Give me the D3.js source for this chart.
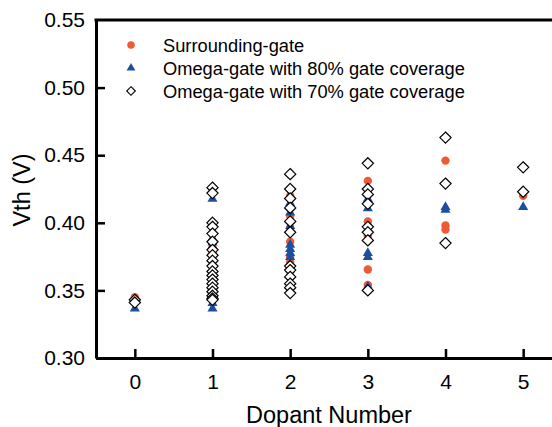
<!DOCTYPE html>
<html>
<head>
<meta charset="utf-8">
<script src="https://cdn.jsdelivr.net/npm/d3@7"></script>
<style>
  body { margin: 0; background: #fff; }
  svg { display: block; font-family: "Liberation Sans", Arial, sans-serif; }
</style>
</head>
<body>
<svg width="552" height="427"></svg>
<script>
// Vth vs dopant number, one list of points per device type
var dopants = [0, 1, 2, 3, 4, 5];
var yTicks = [0.30, 0.35, 0.40, 0.45, 0.50, 0.55];
var seriesNames = ["Surrounding-gate", "Omega-gate with 80% gate coverage", "Omega-gate with 70% gate coverage"];

var surrounding = [
  [0, 0.345],
  [1, 0.385], [1, 0.382], [1, 0.378], [1, 0.372], [1, 0.368], [1, 0.362], [1, 0.357], [1, 0.352], [1, 0.348], [1, 0.345], [1, 0.343],
  [2, 0.420], [2, 0.412], [2, 0.405], [2, 0.396], [2, 0.386], [2, 0.375], [2, 0.371], [2, 0.361], [2, 0.354],
  [3, 0.431], [3, 0.401], [3, 0.390], [3, 0.3655], [3, 0.354], [3, 0.352],
  [4, 0.446], [4, 0.398], [4, 0.395],
  [5, 0.420]
];
var omega80 = [
  [0, 0.337],
  [1, 0.418], [1, 0.389], [1, 0.386], [1, 0.383], [1, 0.378], [1, 0.374], [1, 0.369], [1, 0.363], [1, 0.358], [1, 0.353], [1, 0.349], [1, 0.345], [1, 0.341], [1, 0.337],
  [2, 0.415], [2, 0.408], [2, 0.398], [2, 0.384], [2, 0.381], [2, 0.378], [2, 0.375], [2, 0.366], [2, 0.357],
  [3, 0.418], [3, 0.411], [3, 0.378], [3, 0.375], [3, 0.353],
  [4, 0.412], [4, 0.410],
  [5, 0.412]
];
var omega70 = [
  [0, 0.343], [0, 0.341],
  [1, 0.426], [1, 0.422], [1, 0.400], [1, 0.397], [1, 0.392], [1, 0.386], [1, 0.380], [1, 0.376], [1, 0.372], [1, 0.368], [1, 0.364], [1, 0.361], [1, 0.358], [1, 0.355], [1, 0.352], [1, 0.349], [1, 0.346], [1, 0.344], [1, 0.343],
  [2, 0.436], [2, 0.425], [2, 0.418], [2, 0.411], [2, 0.401], [2, 0.393], [2, 0.368], [2, 0.365], [2, 0.360], [2, 0.355], [2, 0.352], [2, 0.348],
  [3, 0.444], [3, 0.425], [3, 0.421], [3, 0.414], [3, 0.397], [3, 0.393], [3, 0.387], [3, 0.350],
  [4, 0.463], [4, 0.429], [4, 0.385],
  [5, 0.441], [5, 0.423]
];

var red = "#ee5a36", blue = "#1e4f9f";

var svg = d3.select("svg"),
    margin = {left: 96, top: 20, bottom: 358, right: 562};

// plot box runs a little past the right edge of the picture
var x = d3.scaleLinear().domain([-0.5, 5.5]).range([margin.left, margin.right]);
var y = d3.scaleLinear().domain([0.30, 0.55]).range([margin.bottom, margin.top]);

// axes (ticks point inward)
var gx = svg.append("g")
    .attr("transform", "translate(0," + margin.bottom + ")")
    .call(d3.axisBottom(x).tickValues(dopants).tickSizeInner(-9).tickSizeOuter(0).tickPadding(16).tickFormat(d3.format("d")));
var gy = svg.append("g")
    .attr("transform", "translate(" + margin.left + ",0)")
    .call(d3.axisLeft(y).tickValues(yTicks).tickSizeInner(-9).tickSizeOuter(0).tickPadding(11).tickFormat(d3.format(".2f")));

[gx, gy].forEach(function(g) {
  g.select(".domain").attr("stroke", "#000").attr("stroke-width", 3);
  g.selectAll(".tick line").attr("stroke", "#000").attr("stroke-width", 2.5);
  g.selectAll(".tick text").attr("fill", "#000").style("font-size", "21px");
});
gy.select(".tick:last-of-type line").remove();

// top frame line
svg.append("line")
    .attr("x1", margin.left - 1.5).attr("x2", margin.right)
    .attr("y1", margin.top).attr("y2", margin.top)
    .attr("stroke", "#000").attr("stroke-width", 3);

// axis titles
svg.append("text")
    .attr("x", 329).attr("y", 423)
    .attr("text-anchor", "middle")
    .style("font-size", "23.5px")
    .text("Dopant Number");
svg.append("text")
    .attr("transform", "translate(30,190) rotate(-90)")
    .attr("text-anchor", "middle")
    .style("font-size", "23.5px")
    .text("Vth (V)");

var tri = d3.symbol().type(d3.symbolTriangle).size(44);
var dia = function(s) { return "M0," + (-s) + "L" + s + ",0L0," + s + "L" + (-s) + ",0Z"; };

var plot = svg.append("g");

plot.selectAll(".sg").data(surrounding).enter().append("circle")
    .attr("cx", function(d) { return x(d[0]); })
    .attr("cy", function(d) { return y(d[1]); })
    .attr("r", 4.2)
    .attr("fill", red);

plot.selectAll(".o80").data(omega80).enter().append("path")
    .attr("d", tri)
    .attr("transform", function(d) { return "translate(" + x(d[0]) + "," + (y(d[1]) + 0.5) + ")"; })
    .attr("fill", blue);

plot.selectAll(".o70").data(omega70).enter().append("path")
    .attr("d", dia(5.6))
    .attr("transform", function(d) { return "translate(" + x(d[0]) + "," + y(d[1]) + ")"; })
    .attr("fill", "#fff")
    .attr("stroke", "#000")
    .attr("stroke-width", 1.2);

// legend
var legend = svg.append("g").selectAll("g")
    .data(seriesNames)
    .enter().append("g")
    .attr("transform", function(d, i) { return "translate(131," + (45 + i * 23) + ")"; });

legend.append("path")
    .attr("d", function(d, i) {
      if (i == 0) return d3.symbol().type(d3.symbolCircle).size(44)();
      if (i == 1) return d3.symbol().type(d3.symbolTriangle).size(34)();
      return dia(4.3);
    })
    .attr("fill", function(d, i) { return i == 0 ? red : i == 1 ? blue : "#fff"; })
    .attr("stroke", function(d, i) { return i == 2 ? "#000" : "none"; })
    .attr("stroke-width", 1.1);

legend.append("text")
    .attr("x", 32)
    .attr("dy", "0.36em")
    .style("font-size", "18.3px")
    .text(function(d) { return d; });
</script>
</body>
</html>
